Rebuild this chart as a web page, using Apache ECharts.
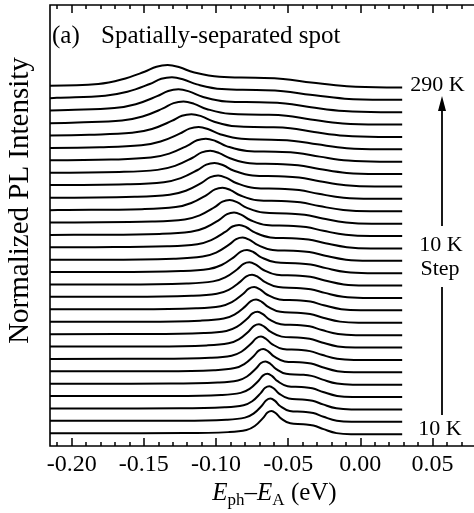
<!DOCTYPE html>
<html>
<head>
<meta charset="utf-8">
<script src="https://cdn.jsdelivr.net/npm/echarts@6/dist/echarts.min.js"></script>
<style>
  html, body { margin: 0; padding: 0; background: #fff; }
  #chart { width: 474px; height: 513px; }
</style>
</head>
<body>
<div id="chart"></div>
<script>
// sample temperatures (K), bottom trace first
const temps = [10, 20, 30, 40, 50, 60, 70, 80, 90, 100, 110, 120, 130, 140, 150,
  160, 170, 180, 190, 200, 210, 220, 230, 240, 250, 260, 270, 280, 290];

// E_ph - E_A (eV) of the points
const energy = [
  [-0.215, -0.1215, -0.0915, -0.0789, -0.0731, -0.0673, -0.0643, -0.0615, -0.0585, -0.0550, -0.0485, -0.0395, -0.0325, -0.0255, -0.0165, -0.0065, 0.029],
  [-0.215, -0.1234, -0.0928, -0.0799, -0.0740, -0.0681, -0.0651, -0.0622, -0.0591, -0.0556, -0.0489, -0.0398, -0.0326, -0.0255, -0.0163, -0.0061, 0.029],
  [-0.215, -0.1248, -0.0939, -0.0809, -0.0749, -0.0690, -0.0659, -0.0630, -0.0599, -0.0563, -0.0496, -0.0403, -0.0331, -0.0259, -0.0166, -0.0063, 0.029],
  [-0.215, -0.1285, -0.0964, -0.0829, -0.0767, -0.0705, -0.0673, -0.0643, -0.0611, -0.0573, -0.0504, -0.0408, -0.0333, -0.0258, -0.0161, -0.0054, 0.029],
  [-0.215, -0.1317, -0.0987, -0.0848, -0.0785, -0.0721, -0.0688, -0.0657, -0.0624, -0.0585, -0.0514, -0.0415, -0.0338, -0.0261, -0.0162, -0.0052, 0.029],
  [-0.215, -0.1356, -0.1014, -0.0870, -0.0804, -0.0738, -0.0704, -0.0672, -0.0638, -0.0598, -0.0524, -0.0421, -0.0341, -0.0262, -0.0159, -0.0045, 0.029],
  [-0.215, -0.1390, -0.1039, -0.0892, -0.0824, -0.0756, -0.0721, -0.0688, -0.0653, -0.0612, -0.0536, -0.0431, -0.0349, -0.0267, -0.0161, -0.0044, 0.029],
  [-0.215, -0.1428, -0.1065, -0.0913, -0.0842, -0.0772, -0.0736, -0.0702, -0.0666, -0.0623, -0.0545, -0.0436, -0.0351, -0.0266, -0.0157, -0.0036, 0.029],
  [-0.215, -0.1456, -0.1084, -0.0928, -0.0856, -0.0784, -0.0747, -0.0712, -0.0675, -0.0631, -0.0551, -0.0439, -0.0352, -0.0266, -0.0154, -0.0030, 0.029],
  [-0.215, -0.1496, -0.1109, -0.0946, -0.0872, -0.0797, -0.0758, -0.0722, -0.0683, -0.0638, -0.0554, -0.0438, -0.0348, -0.0258, -0.0141, -0.0012, 0.029],
  [-0.215, -0.1539, -0.1137, -0.0968, -0.0890, -0.0813, -0.0773, -0.0735, -0.0695, -0.0648, -0.0561, -0.0440, -0.0346, -0.0253, -0.0132, 0.0002, 0.029],
  [-0.215, -0.1590, -0.1170, -0.0994, -0.0912, -0.0831, -0.0789, -0.0750, -0.0708, -0.0659, -0.0568, -0.0442, -0.0344, -0.0246, -0.0120, 0.0020, 0.029],
  [-0.215, -0.1638, -0.1203, -0.1020, -0.0936, -0.0852, -0.0809, -0.0768, -0.0724, -0.0674, -0.0579, -0.0449, -0.0347, -0.0246, -0.0115, 0.0030, 0.029],
  [-0.215, -0.1697, -0.1241, -0.1049, -0.0961, -0.0873, -0.0828, -0.0785, -0.0739, -0.0686, -0.0587, -0.0451, -0.0344, -0.0238, -0.0101, 0.0051, 0.029],
  [-0.215, -0.1769, -0.1292, -0.1092, -0.0999, -0.0907, -0.0860, -0.0815, -0.0767, -0.0712, -0.0608, -0.0465, -0.0354, -0.0243, -0.0099, 0.0060, 0.029],
  [-0.215, -0.1836, -0.1338, -0.1129, -0.1033, -0.0936, -0.0886, -0.0840, -0.0790, -0.0732, -0.0624, -0.0475, -0.0359, -0.0242, -0.0093, 0.0073, 0.029],
  [-0.215, -0.1907, -0.1391, -0.1174, -0.1075, -0.0975, -0.0923, -0.0875, -0.0823, -0.0763, -0.0651, -0.0497, -0.0376, -0.0256, -0.0101, 0.0071, 0.029],
  [-0.215, -0.1979, -0.1442, -0.1216, -0.1113, -0.1009, -0.0955, -0.0905, -0.0851, -0.0789, -0.0672, -0.0511, -0.0386, -0.0261, -0.0099, 0.0080, 0.029],
  [-0.215, -0.2071, -0.1513, -0.1279, -0.1171, -0.1063, -0.1007, -0.0955, -0.0899, -0.0834, -0.0713, -0.0546, -0.0416, -0.0285, -0.0118, 0.0068, 0.029],
  [-0.215, -0.1564, -0.1321, -0.1209, -0.1097, -0.1039, -0.0985, -0.0927, -0.0860, -0.0734, -0.0560, -0.0425, -0.0290, -0.0116, 0.0077, 0.029],
  [-0.215, -0.1616, -0.1361, -0.1244, -0.1127, -0.1067, -0.1010, -0.0949, -0.0879, -0.0747, -0.0566, -0.0424, -0.0283, -0.0101, 0.0101, 0.029],
  [-0.215, -0.1670, -0.1405, -0.1284, -0.1162, -0.1099, -0.1040, -0.0977, -0.0903, -0.0767, -0.0578, -0.0431, -0.0284, -0.0095, 0.0115, 0.029],
  [-0.215, -0.1727, -0.1451, -0.1324, -0.1197, -0.1131, -0.1070, -0.1004, -0.0928, -0.0785, -0.0588, -0.0435, -0.0282, -0.0084, 0.0135, 0.029],
  [-0.215, -0.1804, -0.1517, -0.1384, -0.1252, -0.1184, -0.1120, -0.1052, -0.0972, -0.0824, -0.0618, -0.0459, -0.0299, -0.0094, 0.0134, 0.029],
  [-0.215, -0.1878, -0.1581, -0.1444, -0.1307, -0.1236, -0.1170, -0.1099, -0.1017, -0.0863, -0.0651, -0.0486, -0.0320, -0.0108, 0.0128, 0.029],
  [-0.215, -0.1960, -0.1651, -0.1509, -0.1367, -0.1294, -0.1225, -0.1151, -0.1066, -0.0906, -0.0686, -0.0514, -0.0343, -0.0122, 0.0123, 0.029],
  [-0.215, -0.2025, -0.1704, -0.1556, -0.1408, -0.1331, -0.1260, -0.1183, -0.1094, -0.0928, -0.0699, -0.0520, -0.0342, -0.0112, 0.0143, 0.029],
  [-0.215, -0.2103, -0.1768, -0.1614, -0.1459, -0.1379, -0.1305, -0.1225, -0.1132, -0.0959, -0.0720, -0.0534, -0.0347, -0.0108, 0.0158, 0.029],
  [-0.215, -0.1815, -0.1655, -0.1495, -0.1412, -0.1335, -0.1252, -0.1156, -0.0976, -0.0728, -0.0535, -0.0341, -0.0093, 0.0183, 0.029]
];

// normalized PL intensity at those points, in units of the trace spacing
const intensity = [
  [0.08, 0.09, 0.17, 0.34, 0.66, 1.32, 1.75, 1.88, 1.69, 1.28, 0.88, 0.81, 0.71, 0.41, 0.09, 0, 0],
  [0.08, 0.09, 0.17, 0.34, 0.66, 1.32, 1.75, 1.88, 1.69, 1.28, 0.88, 0.81, 0.71, 0.41, 0.09, 0, 0],
  [0.08, 0.09, 0.17, 0.34, 0.66, 1.32, 1.75, 1.88, 1.69, 1.28, 0.88, 0.81, 0.71, 0.41, 0.09, 0, 0],
  [0.08, 0.09, 0.17, 0.34, 0.66, 1.32, 1.75, 1.88, 1.69, 1.28, 0.88, 0.81, 0.71, 0.41, 0.09, 0, 0],
  [0.08, 0.09, 0.17, 0.34, 0.66, 1.32, 1.75, 1.88, 1.69, 1.28, 0.88, 0.81, 0.71, 0.41, 0.09, 0, 0],
  [0.08, 0.09, 0.17, 0.34, 0.66, 1.32, 1.75, 1.88, 1.69, 1.28, 0.88, 0.81, 0.71, 0.41, 0.09, 0, 0],
  [0.08, 0.09, 0.17, 0.34, 0.66, 1.32, 1.75, 1.88, 1.69, 1.28, 0.88, 0.81, 0.71, 0.41, 0.09, 0, 0],
  [0.08, 0.09, 0.17, 0.34, 0.66, 1.32, 1.75, 1.88, 1.69, 1.28, 0.88, 0.81, 0.71, 0.41, 0.09, 0, 0],
  [0.08, 0.09, 0.17, 0.34, 0.66, 1.32, 1.75, 1.88, 1.69, 1.28, 0.88, 0.81, 0.71, 0.41, 0.09, 0, 0],
  [0.08, 0.09, 0.17, 0.34, 0.66, 1.32, 1.75, 1.88, 1.69, 1.28, 0.88, 0.81, 0.71, 0.41, 0.09, 0, 0],
  [0.09, 0.09, 0.17, 0.34, 0.66, 1.32, 1.75, 1.88, 1.69, 1.28, 0.88, 0.81, 0.71, 0.41, 0.09, 0, 0],
  [0.09, 0.09, 0.17, 0.34, 0.66, 1.32, 1.75, 1.88, 1.69, 1.28, 0.88, 0.81, 0.71, 0.41, 0.09, 0, 0],
  [0.09, 0.09, 0.17, 0.34, 0.66, 1.32, 1.75, 1.88, 1.69, 1.28, 0.88, 0.81, 0.71, 0.41, 0.09, 0, 0],
  [0.09, 0.09, 0.17, 0.34, 0.66, 1.32, 1.75, 1.88, 1.69, 1.28, 0.88, 0.81, 0.71, 0.41, 0.09, 0, 0],
  [0.09, 0.09, 0.17, 0.34, 0.66, 1.32, 1.75, 1.88, 1.69, 1.28, 0.88, 0.81, 0.71, 0.41, 0.09, 0, 0],
  [0.09, 0.10, 0.17, 0.34, 0.67, 1.33, 1.77, 1.90, 1.71, 1.29, 0.89, 0.82, 0.72, 0.42, 0.10, 0, 0],
  [0.09, 0.10, 0.17, 0.34, 0.67, 1.33, 1.77, 1.90, 1.71, 1.29, 0.89, 0.82, 0.72, 0.42, 0.10, 0, 0],
  [0.09, 0.10, 0.17, 0.34, 0.67, 1.33, 1.77, 1.90, 1.71, 1.29, 0.89, 0.82, 0.72, 0.42, 0.10, 0, 0],
  [0.09, 0.10, 0.17, 0.34, 0.67, 1.33, 1.77, 1.90, 1.71, 1.29, 0.89, 0.82, 0.72, 0.42, 0.10, 0, 0],
  [0.09, 0.17, 0.34, 0.66, 1.32, 1.75, 1.88, 1.69, 1.28, 0.88, 0.81, 0.71, 0.41, 0.09, 0, 0],
  [0.11, 0.17, 0.34, 0.67, 1.33, 1.77, 1.90, 1.71, 1.29, 0.89, 0.82, 0.72, 0.42, 0.10, 0, 0],
  [0.11, 0.17, 0.34, 0.66, 1.32, 1.75, 1.88, 1.69, 1.28, 0.88, 0.81, 0.71, 0.41, 0.09, 0, 0],
  [0.11, 0.17, 0.33, 0.65, 1.30, 1.73, 1.86, 1.67, 1.26, 0.87, 0.80, 0.71, 0.41, 0.09, 0, 0],
  [0.11, 0.16, 0.32, 0.63, 1.26, 1.67, 1.80, 1.62, 1.22, 0.85, 0.77, 0.68, 0.40, 0.09, 0, 0],
  [0.11, 0.17, 0.33, 0.64, 1.29, 1.71, 1.84, 1.66, 1.25, 0.86, 0.79, 0.70, 0.40, 0.09, 0, 0],
  [0.11, 0.17, 0.33, 0.65, 1.30, 1.73, 1.86, 1.67, 1.26, 0.87, 0.80, 0.71, 0.41, 0.09, 0, 0],
  [0.13, 0.17, 0.33, 0.64, 1.29, 1.71, 1.84, 1.66, 1.25, 0.86, 0.79, 0.70, 0.40, 0.09, 0, 0],
  [0.13, 0.16, 0.33, 0.64, 1.27, 1.69, 1.82, 1.64, 1.24, 0.86, 0.78, 0.69, 0.40, 0.09, 0, 0],
  [0.13, 0.27, 0.63, 1.26, 1.67, 1.80, 1.62, 1.22, 0.85, 0.77, 0.68, 0.40, 0.09, 0, 0]
];

// bottom axis tick labels, from -0.20 every 0.05
const tickLabels = ['-0.20', '-0.15', '-0.10', '-0.05', '0.00', '0.05'];

const FONT = '"Liberation Serif", "Times New Roman", serif';
const X_MIN = -0.215, X_MAX = 0.085;
const PLOT_LEFT = 50, PLOT_W = 433, PLOT_TOP = 5, PLOT_H = 441;
const TRACE_STEP = 1; // vertical offset between traces

// left edge of a helper grid whose axis starts at value v
function leftAt(v) {
  return PLOT_LEFT + (v - X_MIN) / (X_MAX - X_MIN) * PLOT_W;
}

const chart = echarts.init(document.getElementById('chart'));

const tickAxis = (grid, pos, min, max, interval, len, labels) => ({
  type: 'value', gridIndex: grid, position: pos, min: min, max: max, interval: interval,
  axisLine: { show: false },
  axisTick: { show: true, inside: true, length: len, lineStyle: { color: '#000', width: 1.5 } },
  axisLabel: labels ? {
    show: true, margin: 7, color: '#000', fontFamily: FONT, fontSize: 24,
    showMaxLabel: false,
    formatter: v => tickLabels[Math.round((v + 0.20) / 0.05)] || ''
  } : { show: false },
  splitLine: { show: false }
});

const series = temps.map((t, k) => {
  const s = {
    type: 'line',
    xAxisIndex: 0, yAxisIndex: 0,
    data: energy[k].map((e, j) => [e, k * TRACE_STEP + intensity[k][j]]),
    smooth: 0.4,
    symbol: 'none',
    silent: true,
    lineStyle: { color: '#000', width: 2 }
  };
  if (k === 0 || k === temps.length - 1) {
    s.endLabel = {
      show: true,
      formatter: t + ' K',
      color: '#000', fontFamily: FONT, fontSize: 22,
      distance: k === 0 ? 16 : 8,
      offset: k === 0 ? [0, -5] : [0, -2]
    };
  }
  return s;
});

const titleStyle = { fontFamily: FONT, fontSize: 25, fontWeight: 'normal', color: '#000' };

chart.setOption({
  animation: false,
  backgroundColor: '#fff',
  title: [
    { text: '(a)', left: 52, top: 24, padding: 0, textStyle: titleStyle },
    { text: 'Spatially-separated spot', left: 101, top: 24, padding: 0, textStyle: titleStyle }
  ],
  grid: [
    { left: PLOT_LEFT, top: PLOT_TOP, width: PLOT_W, height: PLOT_H, outerBoundsMode: 'none',
      show: true, borderColor: '#000', borderWidth: 1.6 },
    { left: leftAt(-0.21), top: PLOT_TOP, width: PLOT_W, height: PLOT_H, outerBoundsMode: 'none' },
    { left: leftAt(-0.20), top: PLOT_TOP, width: PLOT_W, height: PLOT_H, outerBoundsMode: 'none' }
  ],
  xAxis: [
    {
      type: 'value', gridIndex: 0, position: 'bottom', min: X_MIN, max: X_MAX,
      axisLine: { show: false }, axisTick: { show: false }, axisLabel: { show: false }, splitLine: { show: false },
      name: '{it|E}{sub|ph}{n|\u2013}{it|E}{sub|A}{n| (eV)}',
      nameLocation: 'middle', nameGap: 31,
      nameTextStyle: {
        padding: [0, 0, 0, 16],
        rich: {
          it: { fontFamily: FONT, fontSize: 25, fontStyle: 'italic', color: '#000', lineHeight: 32 },
          n: { fontFamily: FONT, fontSize: 25, color: '#000', lineHeight: 32 },
          sub: { fontFamily: FONT, fontSize: 17, color: '#000', lineHeight: 17, verticalAlign: 'bottom' }
        }
      }
    },
    tickAxis(1, 'bottom', -0.21, 0.09, 0.01, 4, false),
    tickAxis(1, 'top', -0.21, 0.09, 0.01, 4, false),
    tickAxis(2, 'bottom', -0.20, 0.10, 0.05, 8, true),
    tickAxis(2, 'top', -0.20, 0.10, 0.05, 8, false)
  ],
  yAxis: [
    {
      type: 'value', gridIndex: 0, min: -0.95, max: 34.65,
      axisLine: { show: false }, axisTick: { show: false }, axisLabel: { show: false }, splitLine: { show: false },
      name: 'Normalized PL Intensity',
      nameLocation: 'middle', nameRotate: 90, nameGap: 15,
      nameTextStyle: { fontFamily: FONT, fontSize: 29, color: '#000', padding: [0, 0, 0, 50] }
    },
    { type: 'value', gridIndex: 1, show: false },
    { type: 'value', gridIndex: 2, show: false }
  ],
  graphic: [
    { type: 'line', shape: { x1: 442, y1: 226, x2: 442, y2: 108 }, style: { stroke: '#000', lineWidth: 1.8 } },
    { type: 'polygon', shape: { points: [[442, 96], [438, 111], [446, 111]] }, style: { fill: '#000' } },
    { type: 'line', shape: { x1: 442, y1: 287, x2: 442, y2: 415 }, style: { stroke: '#000', lineWidth: 1.8 } },
    { type: 'text', x: 441, y: 245, style: { text: '10 K', fill: '#000', fontFamily: FONT, fontSize: 22, align: 'center', verticalAlign: 'middle' } },
    { type: 'text', x: 440, y: 269, style: { text: 'Step', fill: '#000', fontFamily: FONT, fontSize: 22, align: 'center', verticalAlign: 'middle' } }
  ],
  series: series
});
</script>
</body>
</html>
